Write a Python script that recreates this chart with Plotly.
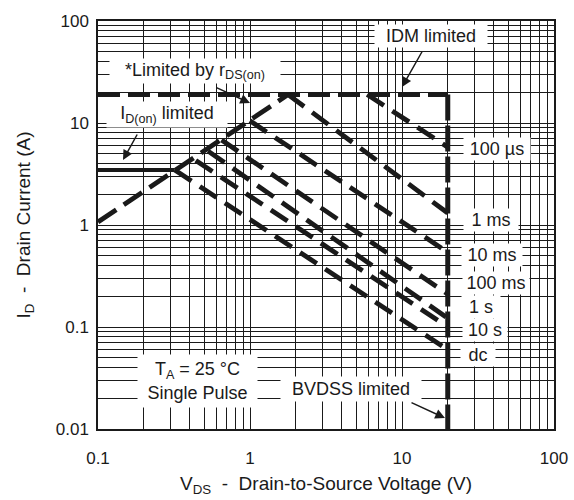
import plotly.graph_objects as go

# ---- data ----
vds_rds = [0.1, 1.78]          # r_DS(on) limit line
id_rds = [1.07, 19.0]
vds_idon = [0.1, 0.32]         # I_D(on) limit
id_idon = [3.46, 3.46]
vds_idm = [0.1, 20.0]          # IDM limit
id_idm = [19.0, 19.0]
vds_bv = [20.0, 20.0]          # BVDSS limit
id_bv = [19.0, 0.01]

pulse_labels = ["100 µs", "1 ms", "10 ms", "100 ms", "1 s", "10 s", "dc"]
pulse_v_start = [5.9, 1.78, 1.0, 0.65, 0.53, 0.44, 0.32]
pulse_i_start = [19.0, 19.0, 10.5, 6.8, 5.3, 4.3, 3.46]
pulse_v_end = [20.0, 20.0, 20.0, 20.0, 20.0, 20.0, 20.0]
pulse_i_end = [5.8, 1.31, 0.54, 0.21, 0.122, 0.10, 0.06]

x_ticks = [0.1, 1, 10, 100]
x_ticktext = ["0.1", "1", "10", "100"]
y_ticks = [0.01, 0.1, 1, 10, 100]
y_ticktext = ["0.01", "0.1", "1", "10", "100"]

FONT = "Liberation Sans, Arial, Helvetica, sans-serif"
INK = "#1a1a1a"
W, H = 574, 500
L, R, T, B = 98, 20, 21, 71
PW, PH = W - L - R, H - T - B


def P(px, py):
    return (px - L) / PW, (H - B - py) / PH


fig = go.Figure()

fig.add_trace(go.Scatter(x=vds_idm, y=id_idm, mode="lines",
                         line=dict(color=INK, width=4.8, dash="22px,8px"),
                         showlegend=False, hoverinfo="skip"))
fig.add_trace(go.Scatter(x=vds_rds, y=id_rds, mode="lines",
                         line=dict(color=INK, width=4.8, dash="22px,9px"),
                         showlegend=False, hoverinfo="skip"))
fig.add_trace(go.Scatter(x=vds_idon, y=id_idon, mode="lines",
                         line=dict(color=INK, width=4),
                         showlegend=False, hoverinfo="skip"))
for i in range(len(pulse_labels)):
    fig.add_trace(go.Scatter(x=[pulse_v_start[i], pulse_v_end[i]],
                             y=[pulse_i_start[i], pulse_i_end[i]],
                             mode="lines", name=pulse_labels[i],
                             line=dict(color=INK, width=4.8, dash="20px,10px"),
                             showlegend=False, hoverinfo="skip"))
fig.add_trace(go.Scatter(x=vds_bv, y=id_bv, mode="lines",
                         line=dict(color=INK, width=5, dash="26px,5px"),
                         showlegend=False, hoverinfo="skip"))

annotations = []


def box(text, px, py, w, h, size=18):
    x, y = P(px, py)
    annotations.append(dict(text=text, x=x, y=y, xref="paper", yref="paper",
                            xanchor="center", yanchor="middle", showarrow=False,
                            width=w, height=h, bgcolor="white", borderpad=0,
                            font=dict(family=FONT, size=size, color=INK)))


def arrow(tx, ty, hx, hy):
    x, y = P(hx, hy)
    annotations.append(dict(text="", x=x, y=y, xref="paper", yref="paper",
                            ax=tx - hx, ay=ty - hy, showarrow=True,
                            arrowhead=2, arrowsize=1.3, arrowwidth=1.5,
                            arrowcolor=INK, standoff=0, startstandoff=0))


box("*Limited by r<sub>DS(on)</sub>", 195, 71, 170, 24)
box("I<sub>D(on)</sub> limited", 167, 115, 120, 25)
box("IDM limited", 431, 36, 112, 22)
label_pos = [(497, 149, 66), (491, 220, 54), (492, 255, 60), (496, 283, 66),
             (481, 307, 38), (485, 330, 44), (478, 355, 34)]
for lab, (px, py, w) in zip(pulse_labels, label_pos):
    box(lab, px, py, w, 22)
box("BVDSS limited", 351, 389, 140, 24)
box("T<sub>A</sub> = 25 °C<br>Single Pulse", 197, 381, 119, 52)

arrow(138, 133, 123, 160)
arrow(215, 87, 250, 103)
arrow(423, 50, 402, 87)
arrow(410, 402, 445, 418)

axis_common = dict(
    type="log", showline=True, mirror=True, linecolor=INK, linewidth=1.5,
    showgrid=True, gridcolor=INK, gridwidth=1.1, zeroline=False,
    ticks="", tickfont=dict(family=FONT, size=17, color=INK),
    dtick=1, tick0=0, automargin=False,
    minor=dict(dtick="D1", showgrid=True, gridcolor=INK, gridwidth=1.1, ticks=""),
)

fig.update_layout(
    width=W, height=H, autosize=False,
    margin=dict(l=L, r=R, t=T, b=B, pad=0),
    paper_bgcolor="white", plot_bgcolor="white",
    font=dict(family=FONT, color=INK),
    xaxis=dict(axis_common, range=[-1, 2], ticklabelstandoff=13,
               title=dict(text="V<sub>DS</sub>\u00a0 - \u00a0Drain-to-Source Voltage (V)",
                          font=dict(family=FONT, size=19, color=INK), standoff=10)),
    yaxis=dict(axis_common, range=[-2, 2], ticklabelstandoff=4,
               title=dict(text="I<sub>D</sub>\u00a0 - \u00a0Drain Current (A)",
                          font=dict(family=FONT, size=19, color=INK), standoff=20)),
    annotations=annotations,
)

fig.write_html("out.html", config={"displayModeBar": False},
               post_script="document.body.style.margin='0';document.body.style.overflow='hidden';")
